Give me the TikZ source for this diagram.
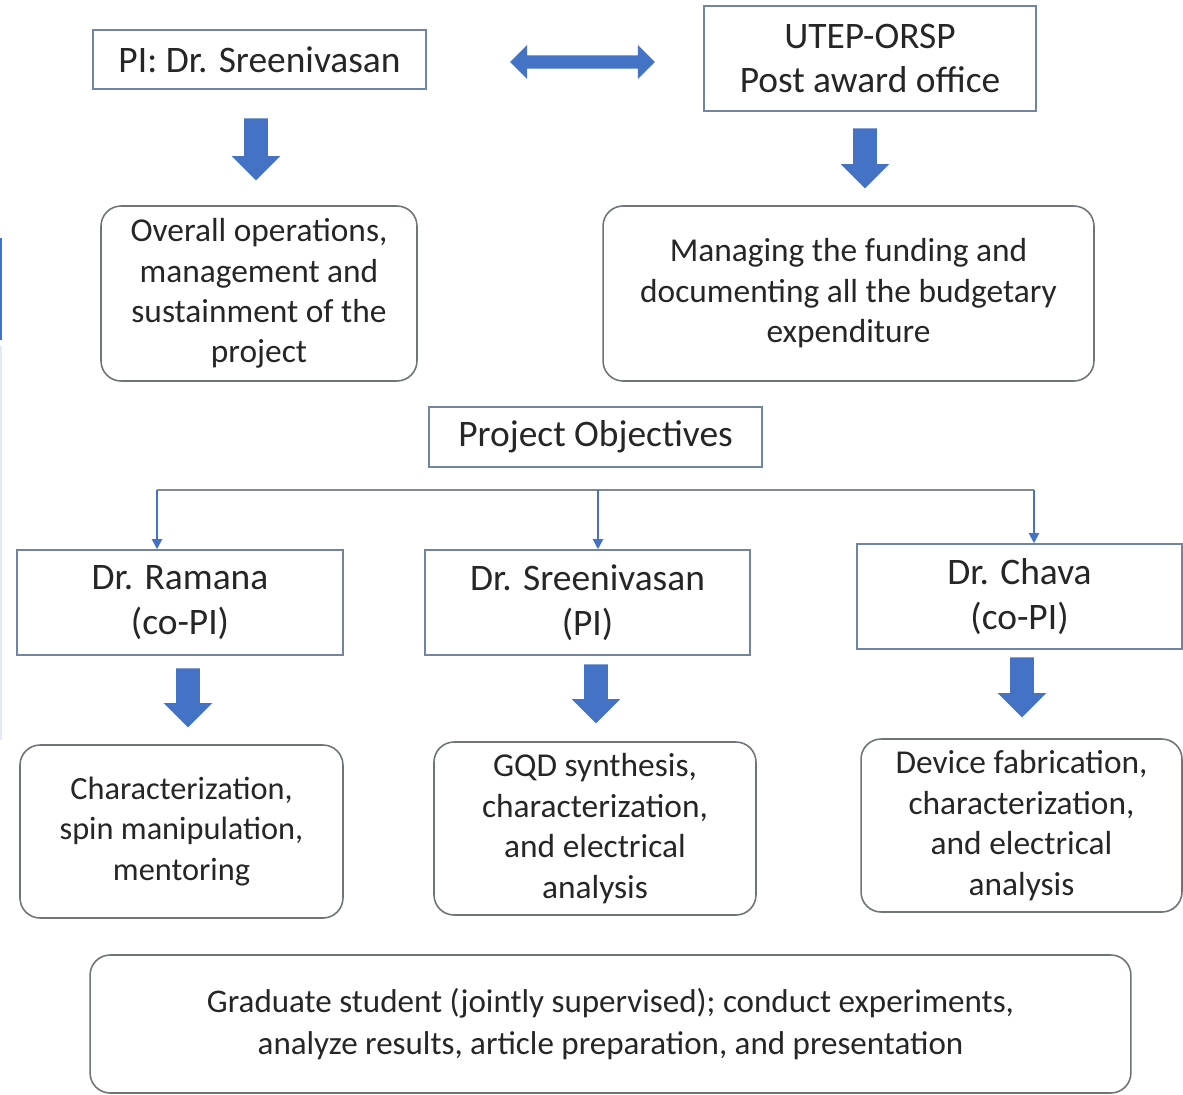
\documentclass[tikz,border=0pt]{standalone}
\usepackage{fontspec}
\setmainfont{Carlito}
\usepackage{xcolor}
\usetikzlibrary{arrows.meta,positioning,shapes.arrows}

\definecolor{arrowblue}{HTML}{4472C4}
\definecolor{boxblue}{HTML}{6F86A3}
\definecolor{boxgray}{HTML}{6E7478}
\definecolor{linegray}{HTML}{7F8A96}
\definecolor{textdark}{HTML}{262626}

\begin{document}
\begin{tikzpicture}[x=0.02cm,y=-0.02cm,
  font=\fontsize{19}{23}\selectfont,text=textdark,
  sqbox/.style={draw=boxblue,line width=0.9pt,align=center,inner sep=2pt,
    font=\fontsize{21.3}{25.5}\selectfont},
  rbox/.style={draw=boxgray,line width=0.9pt,rounded corners=0.4cm,align=center,inner sep=2pt},
  blk/.style={single arrow,fill=arrowblue,draw=none,inner xsep=0pt,inner ysep=0.23cm,
    single arrow head extend=0.25cm,rotate=-90},
  dblk/.style={double arrow,fill=arrowblue,draw=none,inner xsep=0pt,inner ysep=0.125cm,
    double arrow head extend=0.21cm},
  arr/.style={-{Triangle[length=0.2cm,width=0.2cm]},arrowblue,line width=1.1pt}]
\useasboundingbox[fill=white] (0,0) rectangle (1183,1095);
% left edge mark
\draw[arrowblue,line width=1.5pt] (1,238) -- (1,340);
\draw[arrowblue!15,line width=1pt] (1,346) -- (1,740);
% top row
\node[sqbox,minimum width=6.66cm,minimum height=1.18cm] (pi) at (259.5,59.5) {PI: Dr. Sreenivasan};
\node[sqbox,minimum width=6.64cm,minimum height=2.1cm] (orsp) at (870,58.5) {UTEP-ORSP\\Post award office};
\node[dblk,minimum height=2.9cm] (link) at (582.5,62) {};
\node[blk,minimum height=1.24cm] (a1) at (256,143.5) {};
\node[blk,minimum height=1.2cm] (a2) at (865,152.5) {};
\node[rbox,minimum width=6.32cm,minimum height=3.5cm] (ops) at (259,293.5)
  {Overall operations,\\management and\\sustainment of the\\project};
\node[rbox,minimum width=9.82cm,minimum height=3.5cm] (fund) at (848.5,293.5)
  {Managing the funding and\\documenting all the budgetary\\expenditure};
% objectives
\node[sqbox,minimum width=6.66cm,minimum height=1.2cm] (obj) at (595.5,437) {Project Objectives};
\coordinate (jl) at (157,490);
\coordinate (jm) at (598,490);
\coordinate (jr) at (1034,490);
\node[sqbox,minimum width=6.52cm,minimum height=2.1cm] (ramana) at (180,602.5) {Dr. Ramana\\(co-PI)};
\node[sqbox,minimum width=6.5cm,minimum height=2.1cm] (sreeni) at (587.5,602.5) {Dr. Sreenivasan\\(PI)};
\node[sqbox,minimum width=6.5cm,minimum height=2.1cm] (chava) at (1019.5,596.5) {Dr. Chava\\(co-PI)};
\node[blk,minimum height=1.18cm] (a3) at (188,692) {};
\node[blk,minimum height=1.18cm] (a4) at (596,688) {};
\node[blk,minimum height=1.2cm] (a5) at (1022,681.5) {};
\node[rbox,minimum width=6.46cm,minimum height=3.46cm,font=\fontsize{18.4}{23}\selectfont] (charz) at (181.5,831.5)
  {Characterization,\\spin manipulation,\\mentoring};
\node[rbox,minimum width=6.44cm,minimum height=3.46cm] (gqd) at (595,828.5)
  {GQD synthesis,\\characterization,\\and electrical\\analysis};
\node[rbox,minimum width=6.42cm,minimum height=3.46cm] (device) at (1021.5,825.5)
  {Device fabrication,\\characterization,\\and electrical\\analysis};
\node[rbox,minimum width=20.82cm,minimum height=2.76cm,font=\fontsize{18.8}{23.5}\selectfont] (grad) at (610.5,1024)
  {Graduate student (jointly supervised); conduct experiments,\\analyze results, article preparation, and presentation};
% branches
\draw[linegray,line width=1.1pt] (jl) -- (jr);
\draw[arr] (jl) -- (jl|-ramana.north);
\draw[arr] (jm) -- (jm|-sreeni.north);
\draw[arr] (jr) -- (jr|-chava.north);
\end{tikzpicture}
\end{document}
